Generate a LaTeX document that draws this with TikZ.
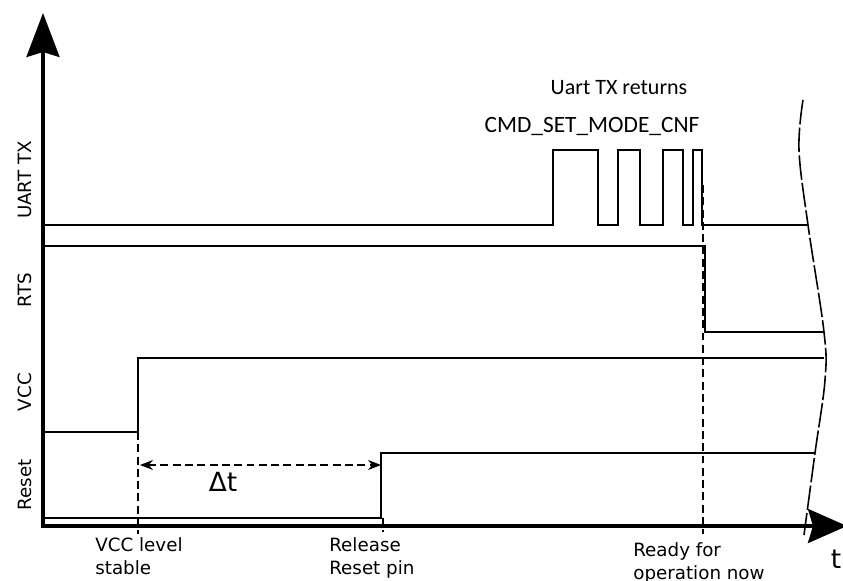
\documentclass[tikz,border=0pt]{standalone}
\usepackage{fontspec}
\setmainfont{DejaVu Sans}
\newfontfamily\calfont{Carlito}
\usetikzlibrary{arrows.meta}
\tikzset{>=stealth}
\tikzset{
  axis/.style={line width=1.9pt},
  signal/.style={line width=0.9pt},
  guide/.style={line width=0.9pt, dash pattern=on 4.5pt off 2.5pt},
  breakline/.style={line width=0.9pt, dash pattern=on 14pt off 1.8pt},
  sig label/.style={rotate=90, font=\fontsize{10.4}{12}\selectfont},
  time label/.style={anchor=north west, align=left, inner sep=0pt,
    font=\fontsize{10.4}{13.1}\selectfont},
}

\begin{document}
\begin{tikzpicture}[x=0.02cm,y=-0.02cm]
  \useasboundingbox (0,0) rectangle (843,581);
  % axes
  \coordinate (O) at (43,526);
  \coordinate (ytip) at (43,13);
  \coordinate (xtip) at (847,526);
  \draw[axis,-{Stealth[length=0.88cm,width=0.66cm,inset=0.1cm]}] (O) -- (ytip);
  \draw[axis,-{Stealth[length=0.78cm,width=0.68cm,inset=0.1cm]}] (41,526) -- (xtip);
  % UART TX
  \draw[signal] (43,225) -- (553,225) -- (553,150) -- (598,150) -- (598,225)
     -- (618,225) -- (618,150) -- (640,150) -- (640,225)
     -- (663,225) -- (663,150) -- (683,150) -- (683,225)
     -- (693,225) -- (693,150) -- (702,150) -- (702,225) -- (807,225);
  % RTS
  \draw[signal] (43,246) -- (705,246) -- (705,332) -- (824,332);
  % VCC
  \draw[signal] (43,432) -- (138,432) -- (138,358) -- (824,358);
  % Reset
  \draw[signal] (41,518) -- (381,518) -- (381,453) -- (815,453);
  % time marks
  \coordinate (stable) at (138,432);
  \coordinate (rel) at (383,518);
  \coordinate (ok) at (703,185);
  \draw[guide] (stable) -- (138,534);
  \draw[guide] (rel) -- (383,532);
  \draw[guide] (ok) -- (703,534);
  \coordinate (dtA) at (140,465);
  \coordinate (dtB) at (381,465);
  \draw[guide,{Stealth[length=0.26cm,width=0.2cm]}-{Stealth[length=0.26cm,width=0.2cm]}] (dtA) -- (dtB);
  % cut in time
  \draw[breakline] plot[smooth,tension=0.6] coordinates
     {(803,100) (799,150) (808,225) (824,332) (825,380) (815,453) (804,535)};
  % labels
  \node[sig label] (uart) at (25,180) {UART TX};
  \node[sig label] (rts) at (25,290) {RTS};
  \node[sig label] (vcc) at (25,392) {VCC};
  \node[sig label] (reset) at (25,485) {Reset};
  \node[anchor=base, font=\calfont\fontsize{12.5}{14}\selectfont] (ret) at (619,95) {Uart TX returns};
  \node[anchor=base, font=\calfont\fontsize{13.3}{15}\selectfont] (cmd) at (592,133) {CMD\_SET\_MODE\_CNF};
  \node[anchor=base, font=\fontsize{15}{16}\selectfont] (dt) at (223,491) {Δt};
  \node[anchor=base, font=\fontsize{15}{16}\selectfont] (t) at (836,568) {t};
  \node[time label] (vccstable) at (95,537) {VCC level\\stable};
  \node[time label] (release) at (329,537) {Release\\Reset pin};
  \node[time label] (ready) at (633,542) {Ready for\\operation now};
\end{tikzpicture}
\end{document}
